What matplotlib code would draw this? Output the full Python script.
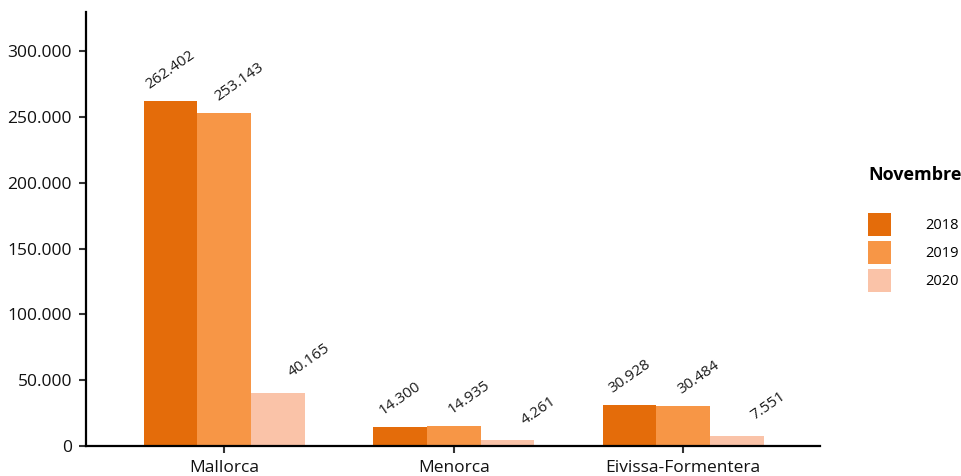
import matplotlib
matplotlib.use("Agg")
import matplotlib.pyplot as plt
from matplotlib.ticker import FuncFormatter, MultipleLocator
import numpy as np

categories = ["Mallorca", "Menorca", "Eivissa-Formentera"]
years = ["2018", "2019", "2020"]
values_2018 = [262402, 14300, 30928]
values_2019 = [253143, 14935, 30484]
values_2020 = [40165, 4261, 7551]
series = [values_2018, values_2019, values_2020]
colors = ["#E46C0A", "#F79646", "#FAC3A8"]
legend_title = "Novembre"

# label offsets (points) per series, styling only
label_dx = [0, 11, 22.5]
label_dy = [6.5, 6.5, 9]

plt.rcParams['font.family'] = ['Open Sans', 'DejaVu Sans']

def fmt(v):
    return f"{int(round(v)):,}".replace(",", ".")

fig = plt.figure(figsize=(9.62, 4.76), dpi=100)
ax = fig.add_axes([0.0894, 0.063, 0.7626, 0.912])

x = np.arange(len(categories))
w = 0.234
for i, (vals, col, yr) in enumerate(zip(series, colors, years)):
    pos = x + (i - 1) * w
    ax.bar(pos, vals, width=w, color=col, label=yr, linewidth=0)
    for xp, v in zip(pos, vals):
        ax.annotate(fmt(v), (xp, v), xytext=(label_dx[i], label_dy[i]), textcoords="offset points",
                    ha="center", va="bottom", rotation=35, fontsize=11, color="#1a1a1a")

ax.set_xlim(-0.603, 2.595)
ax.set_ylim(0, 330000)
ax.yaxis.set_major_locator(MultipleLocator(50000))
ax.yaxis.set_major_formatter(FuncFormatter(lambda v, p: fmt(v)))
ax.set_xticks(x)
ax.set_xticklabels(categories)

for s in ["top", "right"]:
    ax.spines[s].set_visible(False)
for s in ["left", "bottom"]:
    ax.spines[s].set_linewidth(1.6)
    ax.spines[s].set_color("black")
ax.tick_params(axis="both", length=5, width=1.5, labelsize=12.5, colors="#333333", labelcolor="#111111", pad=5)

leg = ax.legend(title=legend_title, loc="upper left", bbox_to_anchor=(1.066, 0.646),
                frameon=False, fontsize=10.5, handlelength=1.6, handleheight=2.05,
                handletextpad=2.34, labelspacing=0.34, borderaxespad=0, borderpad=0,
                title_fontproperties={"weight": "bold", "size": 13}, alignment="left")
leg._legend_box.sep = 21

fig.savefig("out.png", dpi=100)
